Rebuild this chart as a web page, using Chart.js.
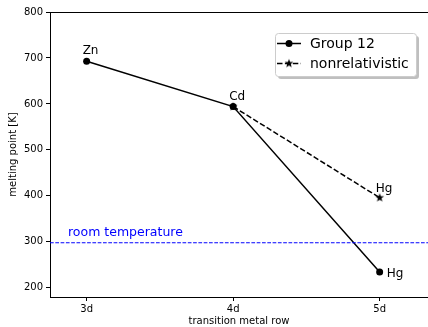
<!DOCTYPE html>
<html>
<head>
<meta charset="utf-8">
<script src="https://cdn.jsdelivr.net/npm/chart.js@4"></script>
<style>
  html, body { margin: 0; padding: 0; background: #fff; }
</style>
</head>
<body>
<canvas id="meltChart" width="428" height="327"></canvas>
<script>
// 数据
const rowLabels = ['3d', '4d', '5d'];
const elements = ['Zn', 'Cd', 'Hg'];
const group12 = [692.7, 594.2, 234.3];
const nonrelativistic = [null, 594.2, 396];
const roomTemp = 298;
const yTicks = [200, 300, 400, 500, 600, 700, 800];
const xRange = [-0.25, 2.33];   // 右侧被裁掉

const FONT = "'DejaVu Sans', sans-serif";

// 五角星标记
function makeStar(r) {
    var size = Math.ceil(r * 2 + 2);
    var c = document.createElement('canvas');
    c.width = size; c.height = size;
    var g = c.getContext('2d');
    g.beginPath();
    for (var k = 0; k < 10; k++) {
        var a = -Math.PI / 2 + k * Math.PI / 5;
        var rad = (k % 2) ? r * 0.42 : r;
        var px = size / 2 + rad * Math.cos(a), py = size / 2 + rad * Math.sin(a);
        if (k === 0) g.moveTo(px, py); else g.lineTo(px, py);
    }
    g.closePath();
    g.fillStyle = '#000';
    g.fill();
    return c;
}
var starImg = makeStar(4.6);

function toPoints(arr) {
    return arr.map((v, i) => v === null ? null : { x: i, y: v }).filter(p => p);
}

// 注释、边框、图例
var decorPlugin = {
    id: 'decor',
    afterDatasetsDraw(chart) {
        var ctx = chart.ctx, a = chart.chartArea;
        var xs = chart.scales.x, ys = chart.scales.y;
        ctx.save();
        // 上边框
        ctx.strokeStyle = '#000';
        ctx.lineWidth = 1;
        ctx.beginPath();
        ctx.moveTo(a.left, Math.round(a.top) + 0.5);
        ctx.lineTo(a.right, Math.round(a.top) + 0.5);
        ctx.stroke();

        // 元素标注
        ctx.font = '12px ' + FONT;
        ctx.fillStyle = '#000';
        ctx.textBaseline = 'alphabetic';
        ctx.textAlign = 'left';
        for (var i = 0; i < 2; i++) {
            ctx.fillText(elements[i], xs.getPixelForValue(i) - 4, ys.getPixelForValue(group12[i]) - 7);
        }
        ctx.fillText(elements[2], xs.getPixelForValue(2) - 4, ys.getPixelForValue(nonrelativistic[2]) - 6);
        ctx.fillText(elements[2], xs.getPixelForValue(2) + 7, ys.getPixelForValue(group12[2]) + 5);

        // 室温
        ctx.fillStyle = '#0000ff';
        ctx.font = '12.5px ' + FONT;
        ctx.fillText('room temperature', 68, ys.getPixelForValue(roomTemp) - 7);

        // 图例
        var lx = 275, ly = 33, lw = 141, lh = 43;
        ctx.fillStyle = 'rgba(128,128,128,0.5)';
        ctx.beginPath(); ctx.roundRect(lx + 3, ly + 3, lw, lh, 3); ctx.fill();
        ctx.fillStyle = '#fff';
        ctx.strokeStyle = '#cccccc';
        ctx.beginPath(); ctx.roundRect(lx + 0.5, ly + 0.5, lw, lh, 3); ctx.fill(); ctx.stroke();

        ctx.strokeStyle = '#000';
        ctx.lineWidth = 1.5;
        ctx.beginPath(); ctx.moveTo(277, 43.5); ctx.lineTo(301, 43.5); ctx.stroke();
        ctx.fillStyle = '#000';
        ctx.beginPath(); ctx.arc(289, 43.5, 3.5, 0, Math.PI * 2); ctx.fill();
        ctx.setLineDash([5.5, 2.4]);
        ctx.beginPath(); ctx.moveTo(277, 63.5); ctx.lineTo(301, 63.5); ctx.stroke();
        ctx.setLineDash([]);
        ctx.drawImage(starImg, 289 - starImg.width / 2, 63.5 - starImg.height / 2);

        ctx.font = '14px ' + FONT;
        ctx.textBaseline = 'middle';
        ctx.fillText('Group 12', 310, 44);
        ctx.fillText('nonrelativistic', 310, 64);
        ctx.restore();
    }
};

var meltChart = new Chart(document.getElementById('meltChart').getContext('2d'), {
    type: 'scatter',
    data: {
        datasets: [{
            label: 'room temperature',
            data: [{ x: xRange[0], y: roomTemp }, { x: xRange[1], y: roomTemp }],
            showLine: true,
            borderColor: '#0000ff',
            borderWidth: 1,
            borderDash: [3.7, 1.6],
            pointRadius: 0
        }, {
            label: 'nonrelativistic',
            data: toPoints(nonrelativistic),
            showLine: true,
            borderColor: '#000',
            borderWidth: 1.5,
            borderDash: [5.5, 2.4],
            pointStyle: starImg,
            pointRadius: 5
        }, {
            label: 'Group 12',
            data: toPoints(group12),
            showLine: true,
            borderColor: '#000',
            backgroundColor: '#000',
            borderWidth: 1.5,
            pointRadius: 3.5,
            pointBorderWidth: 0
        }]
    },
    options: {
        responsive: false,
        animation: false,
        devicePixelRatio: 1,
        layout: { autoPadding: false, padding: { top: 12, right: 0, left: 0, bottom: 0 } },
        plugins: { legend: { display: false }, tooltip: { enabled: false } },
        scales: {
            x: {
                type: 'linear',
                min: xRange[0],
                max: xRange[1],
                afterBuildTicks: s => { s.ticks = rowLabels.map((l, i) => ({ value: i })); },
                afterFit: s => { s.height = 30; },
                ticks: {
                    callback: v => rowLabels[v],
                    color: '#000',
                    font: { family: FONT, size: 10 },
                    padding: 2
                },
                grid: { drawOnChartArea: false, tickLength: 4, color: '#000' },
                border: { color: '#000' },
                title: {
                    display: true,
                    text: 'transition metal row',
                    color: '#000',
                    font: { family: FONT, size: 10 },
                    padding: { top: 0, bottom: 0 }
                }
            },
            y: {
                min: 180,
                max: 800,
                afterBuildTicks: s => { s.ticks = yTicks.map(v => ({ value: v })); },
                afterFit: s => { s.width = 50; },
                ticks: {
                    color: '#000',
                    font: { family: FONT, size: 10 },
                    padding: 3
                },
                grid: { drawOnChartArea: false, tickLength: 4, color: '#000' },
                border: { color: '#000' },
                title: {
                    display: true,
                    text: 'melting point [K]',
                    color: '#000',
                    font: { family: FONT, size: 10 },
                    padding: { top: 7, bottom: 0 }
                }
            }
        }
    },
    plugins: [decorPlugin]
});
</script>
</body>
</html>
